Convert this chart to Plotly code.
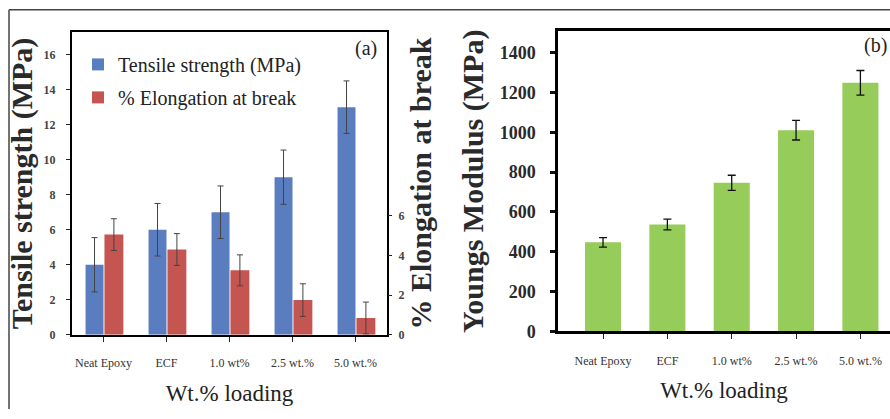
import plotly.graph_objects as go

categories = ["Neat Epoxy", "ECF", "1.0 wt%", "2.5 wt.%", "5.0 wt.%"]
tensile = [4.0, 6.0, 7.0, 9.0, 13.0]
tensile_err = [1.55, 1.5, 1.5, 1.55, 1.5]
elongation = [5.05, 4.3, 3.25, 1.75, 0.85]
elongation_err = [0.8, 0.8, 0.78, 0.82, 0.8]
modulus = [447, 537, 746, 1010, 1248]
modulus_err = [24, 27, 38, 49, 62]

W, H = 890, 419
def px(x): return x / W
def py(y): return 1 - y / H

SERIF = "Liberation Serif, Times New Roman, serif"
idx = list(range(len(categories)))

fig = go.Figure()
fig.add_trace(go.Bar(
    x=idx, y=tensile, name="Tensile strength (MPa)", width=0.285, offset=-0.285,
    marker=dict(color="#5A7DC0", line=dict(width=0)),
    error_y=dict(type="data", array=tensile_err, color="#444", thickness=1, width=3),
    xaxis="x", yaxis="y", legendgroup="a"))
fig.add_trace(go.Bar(
    x=idx, y=elongation, name="% Elongation at break", width=0.3, offset=0.015,
    marker=dict(color="#C55550", line=dict(width=0)),
    error_y=dict(type="data", array=elongation_err, color="#444", thickness=1, width=3),
    xaxis="x", yaxis="y2", legendgroup="b"))
fig.add_trace(go.Bar(
    x=idx, y=modulus, name="Youngs Modulus", width=0.56, offset=-0.28,
    marker=dict(color="#95CC5A", line=dict(width=0)),
    error_y=dict(type="data", array=modulus_err, color="#111", thickness=1.3, width=4),
    xaxis="x2", yaxis="y3", showlegend=False))

tickfont_small = dict(family=SERIF, size=12, color="#333")
title_font = dict(family=SERIF, size=30, color="#2a2a2a")
fig.update_layout(
    width=W, height=H, margin=dict(l=0, r=0, t=0, b=0),
    paper_bgcolor="white", plot_bgcolor="white", barmode="overlay",
    font=dict(family=SERIF, color="#222"),
    xaxis=dict(domain=[px(72), px(387)], range=[-0.5, 4.5], tickvals=idx, ticktext=categories,
               tickfont=tickfont_small, ticks="outside", ticklen=5, tickwidth=1, tickcolor="#222",
               ticklabelstandoff=11,
               showline=True, linecolor="black", linewidth=2, mirror=True, showgrid=False, zeroline=False,
               title=dict(text="Wt.% loading", font=dict(family=SERIF, size=23, color="#222"), standoff=16),
               anchor="y"),
    yaxis=dict(domain=[py(343), py(33)], range=[0, 17.28], tickvals=[0, 2, 4, 6, 8, 10, 12, 14, 16],
               tickfont=dict(family=SERIF, size=12, color="#444", weight="bold"),
               ticks="outside", ticklen=4, tickcolor="#222", ticklabelstandoff=8,
               showline=True, linecolor="black", linewidth=2, mirror=True, showgrid=False, zeroline=False,
               title=dict(text="<b>Tensile strength (MPa)</b>", font=title_font, standoff=2),
               anchor="x"),
    yaxis2=dict(domain=[py(343), py(33)], range=[0, 15.25], tickvals=[0, 2, 4, 6], overlaying="y", side="right",
                tickfont=dict(family=SERIF, size=12, color="#444", weight="bold"),
                ticks="outside", ticklen=4, tickcolor="#222", ticklabelstandoff=4,
                showline=False, showgrid=False, zeroline=False,
                title=dict(text="<b>% Elongation at break</b>", font=title_font, standoff=0),
                anchor="x"),
    xaxis2=dict(domain=[px(558), 1.0], range=[-0.7, 4.46], tickvals=idx, ticktext=categories,
                tickfont=tickfont_small, ticks="outside", ticklen=5, tickwidth=1, tickcolor="#222",
                ticklabelstandoff=11,
                showline=True, linecolor="black", linewidth=2.5, mirror=True, showgrid=False, zeroline=False,
                title=dict(text="Wt.% loading", font=dict(family=SERIF, size=23, color="#222"), standoff=16),
                anchor="y3"),
    yaxis3=dict(domain=[py(339.5), py(32)], range=[0, 1507], tickvals=[0, 200, 400, 600, 800, 1000, 1200, 1400],
                tickfont=dict(family=SERIF, size=18, color="#2a2a2a", weight="bold"),
                ticks="outside", ticklen=5, tickwidth=2.5, tickcolor="#111", ticklabelstandoff=11,
                showline=True, linecolor="black", linewidth=2.5, mirror=False, showgrid=False, zeroline=False,
                title=dict(text="<b>Youngs Modulus (MPa)</b>", font=title_font, standoff=8),
                anchor="x2"),
    legend=dict(x=px(78), y=py(46), xanchor="left", yanchor="top", bgcolor="rgba(0,0,0,0)",
                font=dict(family=SERIF, size=20, color="#222"), tracegroupgap=4, itemwidth=30),
    annotations=[
        dict(text="(a)", x=px(379), y=py(50), xref="paper", yref="paper", xanchor="right", yanchor="middle",
             showarrow=False, font=dict(family=SERIF, size=20, color="#222")),
        dict(text="(b)", x=px(889), y=py(47), xref="paper", yref="paper", xanchor="right", yanchor="middle",
             showarrow=False, font=dict(family=SERIF, size=20, color="#222")),
    ],
    shapes=[
        dict(type="line", xref="paper", yref="paper", x0=px(9), x1=1.0, y0=py(10), y1=py(10),
             line=dict(color="#444", width=1.5)),
        dict(type="line", xref="paper", yref="paper", x0=px(9), x1=px(9), y0=py(10), y1=0,
             line=dict(color="#444", width=1.5)),
    ],
)

fig.write_html("out.html")
